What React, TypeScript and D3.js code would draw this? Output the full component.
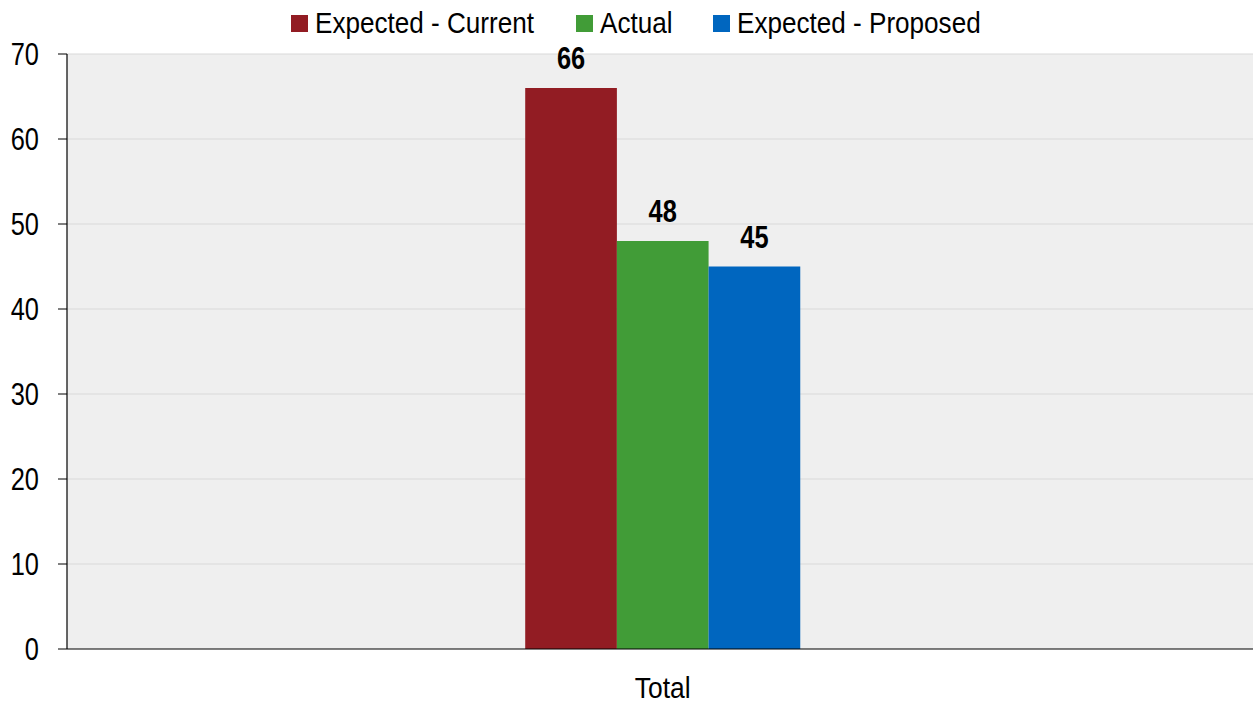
import React from "react";
import * as d3 from "d3";

const categories = ["Total"];
const seriesNames = ["Expected - Current", "Actual", "Expected - Proposed"];
const seriesColors = ["#921c23", "#419c37", "#0066bf"];
const seriesValues = [[66], [48], [45]];
const yTicks = [0, 10, 20, 30, 40, 50, 60, 70];

const W = 1253;
const H = 704;
const M = { left: 67, right: 0, top: 54, bottom: 55 };
const FONT = "'Liberation Sans', Arial, sans-serif";

function T(props: {
  x: number;
  y: number;
  sx: number;
  size: number;
  anchor?: string;
  bold?: boolean;
  dy?: string;
  children: React.ReactNode;
}) {
  return (
    <text
      transform={`translate(${props.x},${props.y}) scale(${props.sx},1)`}
      textAnchor={props.anchor || "start"}
      fontSize={props.size}
      fontWeight={props.bold ? "bold" : "normal"}
      dy={props.dy}
      fill="#000"
    >
      {props.children}
    </text>
  );
}

export default function App() {
  const x0 = d3
    .scaleBand<string>()
    .domain(categories)
    .range([M.left, W - M.right])
    .paddingInner(0)
    .paddingOuter(1.656)
    .align(0.503);
  const x1 = d3
    .scaleBand<string>()
    .domain(seriesNames)
    .range([0, x0.bandwidth()]);
  const y = d3
    .scaleLinear()
    .domain([0, 70])
    .range([H - M.bottom, M.top]);

  const legendX = [291, 576, 713];

  return (
    <svg
      width={W}
      height={H}
      style={{ position: "absolute", left: 0, top: 0, background: "#fff" }}
      fontFamily={FONT}
    >
      <rect
        x={M.left}
        y={M.top}
        width={W - M.right - M.left}
        height={y(0) - M.top}
        fill="#efefef"
      />
      {yTicks.map((t) => (
        <g key={t}>
          {t > 0 && (
            <line
              x1={M.left}
              x2={W - M.right}
              y1={y(t)}
              y2={y(t)}
              stroke="#d9d9d9"
              strokeWidth={1}
            />
          )}
          <line x1={58} x2={M.left} y1={y(t)} y2={y(t)} stroke="#000" strokeWidth={1} />
          <T x={39} y={y(t)} sx={0.82} size={31} anchor="end" dy="0.36em">
            {t}
          </T>
        </g>
      ))}
      {categories.map((c, ci) => (
        <g key={c} transform={`translate(${x0(c)},0)`}>
          {seriesNames.map((s, si) => {
            const v = seriesValues[si][ci];
            const bx = x1(s)!;
            return (
              <g key={s}>
                <rect
                  x={bx}
                  y={y(v)}
                  width={x1.bandwidth()}
                  height={y(0) - y(v)}
                  fill={seriesColors[si]}
                />
                <T
                  x={bx + x1.bandwidth() / 2}
                  y={y(v) - 19}
                  sx={0.82}
                  size={31}
                  anchor="middle"
                  bold
                >
                  {v}
                </T>
              </g>
            );
          })}
          <T x={x0.bandwidth() / 2} y={698} sx={0.88} size={30} anchor="middle">
            {c}
          </T>
        </g>
      ))}
      <line x1={M.left} x2={M.left} y1={M.top} y2={y(0)} stroke="#000" strokeWidth={1.2} />
      <line x1={M.left} x2={W - M.right} y1={y(0)} y2={y(0)} stroke="#000" strokeWidth={1.2} />
      {seriesNames.map((s, i) => (
        <g key={s}>
          <rect x={legendX[i]} y={15} width={17} height={17} fill={seriesColors[i]} />
          <T x={legendX[i] + 24} y={33} sx={0.87} size={30}>
            {s}
          </T>
        </g>
      ))}
    </svg>
  );
}
